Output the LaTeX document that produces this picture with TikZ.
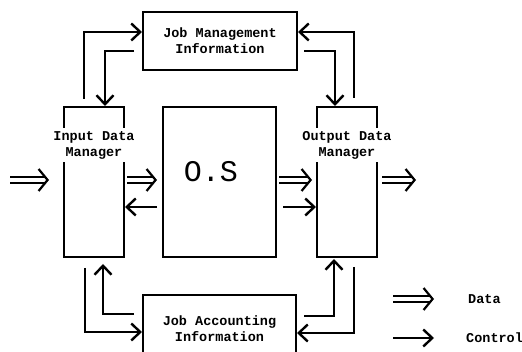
\documentclass[tikz,border=0pt]{standalone}
\usepackage{fontspec}
\setmonofont{Liberation Mono}
\usetikzlibrary{arrows.meta,positioning}

\begin{document}
\begin{tikzpicture}[x=1pt, y=-1pt,
    every node/.style={font=\ttfamily\bfseries\fontsize{13.5}{16}\selectfont},
    box/.style={draw, line width=2pt, align=center, inner sep=0pt},
    tag/.style={fill=white, align=center, inner sep=3pt},
    ctrl/.style={line width=2.4pt, -{Straight Barb[length=9pt, width=17pt]}},
    data/.style={double, double distance=3.6pt, line width=1.8pt,
      -{Straight Barb[length=9pt, width=22pt, line width=2.2pt]}}]
  \useasboundingbox (0,0) rectangle (522,352);
  \clip (0,0) rectangle (522,352);

  % the blocks
  \node[box, minimum width=154pt, minimum height=58pt] (jmi) at (220,41)
    {Job Management\\Information};
  \node[box, minimum width=60pt, minimum height=150pt] (idm) at (94,182) {};
  \node[tag] (idmtag) at (94,145) {Input Data\\Manager};
  \node[box, minimum width=113pt, minimum height=150pt] (os) at (219.5,182) {};
  \node[font=\ttfamily\fontsize{30}{30}\selectfont] (oslbl) at (211,172) {O.S};
  \node[box, minimum width=60pt, minimum height=150pt] (odm) at (347,182) {};
  \node[tag] (odmtag) at (347,145) {Output Data\\Manager};
  \node[box, minimum width=153pt, minimum height=68pt] (jai) at (219.5,329)
    {Job Accounting\\Information};

  % control loops, top
  \draw[ctrl, shorten <=7pt] ([xshift=-10]idm.north) |- ([yshift=9]jmi.west);
  \draw[ctrl, shorten <=8pt] ([yshift=-10]jmi.west) -| ([xshift=11]idm.north);
  \draw[ctrl, shorten <=8pt] ([xshift=7]odm.north) |- ([yshift=9]jmi.east);
  \draw[ctrl, shorten <=6pt] ([yshift=-10]jmi.east) -| ([xshift=-12]odm.north);

  % control loops, bottom
  \draw[ctrl, shorten <=10pt] ([xshift=-9]idm.south) |- ([yshift=-3]jai.west);
  \draw[ctrl, shorten <=8pt, shorten >=6pt] ([yshift=15]jai.west) -| ([xshift=9]idm.south);
  \draw[ctrl, shorten <=7pt, shorten >=1pt] ([yshift=13]jai.east) -| ([xshift=-13]odm.south);
  \draw[ctrl, shorten <=9pt] ([xshift=7]odm.south) |- ([yshift=-4]jai.east);

  % data flow through the middle
  \coordinate (in) at (10,180);
  \coordinate (out) at (416,180);
  \draw[data, shorten >=14pt] (in) -- (in -| idm.west);
  \draw[data, shorten <=2pt, shorten >=5pt] ([yshift=2]idm.east) -- ([yshift=2]os.west);
  \draw[ctrl, shorten <=5pt] ([yshift=-25]os.west) -- ([yshift=-25]idm.east);
  \draw[data, shorten <=2pt, shorten >=4pt] ([yshift=2]os.east) -- ([yshift=2]odm.west);
  \draw[ctrl, shorten <=6pt] ([yshift=-25]os.east) -- ([yshift=-25]odm.west);
  \draw[data, shorten <=4pt] ([yshift=2]odm.east) -- (out);

  % key
  \node[inner sep=0pt, anchor=west] (datakey) at (468,299) {Data};
  \node[inner sep=0pt, anchor=west] (ctrlkey) at (466,338) {Control};
  \coordinate (d0) at (393,299);
  \coordinate (c0) at (393,338);
  \draw[data] (d0) -- ++(41,0);
  \draw[ctrl] (c0) -- ++(41,0);
\end{tikzpicture}
\end{document}
